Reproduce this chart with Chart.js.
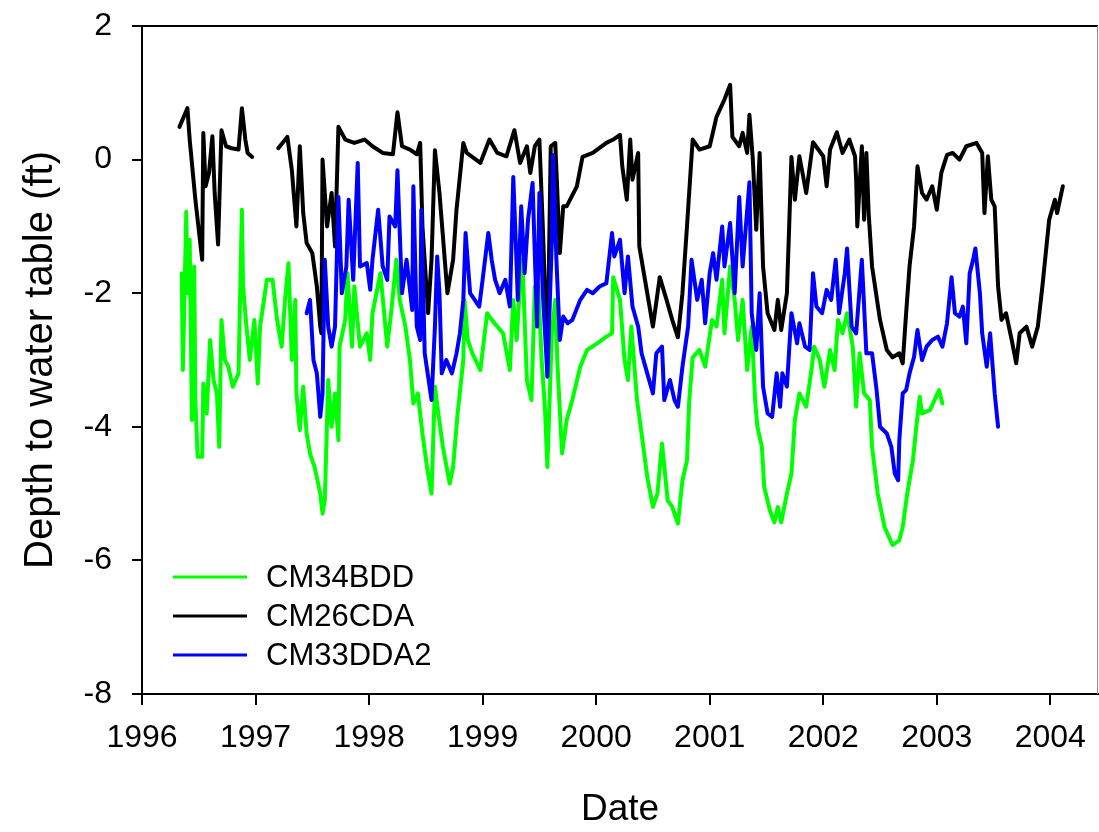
<!DOCTYPE html>
<html><head><meta charset="utf-8">
<script src="https://cdn.jsdelivr.net/npm/chart.js@4.4.1/dist/chart.umd.min.js"></script>
<style>html,body{margin:0;padding:0;background:#fff;overflow:hidden}canvas{display:block}</style>
</head><body>
<canvas id="c" width="1099" height="832"></canvas>
<script>
const seriesNames = ['CM34BDD', 'CM26CDA', 'CM33DDA2'];
const seriesColors = ['#00ff00', '#000000', '#0000ff'];
const yearTicks = [1996, 1997, 1998, 1999, 2000, 2001, 2002, 2003, 2004];
const depthTicks = [2, 0, -2, -4, -6, -8];

const cm34bddYears = [1996.35,1996.36,1996.39,1996.40,1996.42,1996.44,1996.46,1996.47,1996.49,1996.53,1996.54,1996.57,1996.60,1996.63,1996.66,1996.68,1996.70,1996.73,1996.76,1996.80,1996.85,1996.88,1996.89,1996.92,1996.95,1996.99,1997.02,1997.04,1997.10,1997.15,1997.19,1997.23,1997.26,1997.29,1997.32,1997.35,1997.36,1997.39,1997.42,1997.45,1997.48,1997.52,1997.57,1997.59,1997.61,1997.64,1997.67,1997.70,1997.73,1997.74,1997.79,1997.81,1997.85,1997.87,1997.92,1997.98,1998.01,1998.03,1998.10,1998.16,1998.20,1998.24,1998.27,1998.32,1998.36,1998.39,1998.43,1998.47,1998.51,1998.55,1998.58,1998.61,1998.65,1998.71,1998.74,1998.78,1998.83,1998.84,1998.87,1998.91,1998.98,1999.04,1999.08,1999.13,1999.18,1999.24,1999.27,1999.30,1999.33,1999.35,1999.39,1999.43,1999.46,1999.49,1999.52,1999.55,1999.57,1999.61,1999.64,1999.66,1999.70,1999.74,1999.79,1999.86,1999.92,2000.01,2000.09,2000.14,2000.15,2000.21,2000.25,2000.28,2000.31,2000.36,2000.40,2000.45,2000.50,2000.54,2000.58,2000.63,2000.67,2000.72,2000.76,2000.80,2000.82,2000.85,2000.91,2000.96,2001.02,2001.06,2001.11,2001.13,2001.18,2001.22,2001.25,2001.29,2001.33,2001.37,2001.40,2001.42,2001.46,2001.48,2001.53,2001.57,2001.60,2001.63,2001.68,2001.72,2001.75,2001.79,2001.85,2001.90,2001.92,2001.97,2002.01,2002.06,2002.10,2002.13,2002.17,2002.21,2002.26,2002.29,2002.32,2002.36,2002.41,2002.43,2002.48,2002.54,2002.61,2002.67,2002.70,2002.74,2002.79,2002.82,2002.85,2002.87,2002.94,2002.98,2003.02,2003.05];
const cm34bddDepth = [-1.7,-3.15,-0.78,-2.0,-1.2,-3.9,-1.6,-3.6,-4.45,-4.45,-3.35,-3.8,-2.7,-3.3,-3.5,-4.3,-2.4,-3.0,-3.1,-3.4,-3.2,-0.75,-1.9,-2.5,-3.0,-2.4,-3.35,-2.5,-1.8,-1.8,-2.4,-2.8,-2.1,-1.55,-3.0,-2.1,-3.5,-4.05,-3.4,-4.1,-4.4,-4.6,-5.0,-5.3,-5.1,-3.3,-4.0,-3.5,-4.2,-2.8,-2.4,-1.7,-2.8,-1.9,-2.8,-2.6,-3.0,-2.3,-1.7,-2.8,-2.2,-1.5,-2.1,-2.5,-3.0,-3.65,-3.5,-4.1,-4.6,-5.0,-3.4,-3.8,-4.3,-4.85,-4.6,-3.8,-3.0,-2.1,-2.7,-2.9,-3.15,-2.3,-2.4,-2.5,-2.6,-3.15,-2.1,-2.7,-1.85,-1.5,-3.3,-3.6,-1.9,-1.9,-3.0,-3.75,-4.6,-2.6,-2.1,-3.1,-4.4,-3.9,-3.6,-3.1,-2.85,-2.75,-2.65,-2.6,-1.76,-2.1,-3.0,-3.3,-2.5,-3.6,-4.1,-4.75,-5.2,-5.0,-4.25,-5.1,-5.2,-5.45,-4.8,-4.5,-3.6,-2.96,-2.85,-3.1,-2.4,-2.5,-1.8,-2.6,-1.6,-2.1,-2.7,-2.1,-3.15,-2.5,-3.6,-4.0,-4.3,-4.9,-5.25,-5.43,-5.2,-5.43,-5.0,-4.7,-3.9,-3.5,-3.7,-3.1,-2.8,-3.0,-3.4,-2.85,-3.15,-2.4,-2.6,-2.3,-2.8,-3.7,-2.9,-3.5,-3.6,-4.3,-5.0,-5.5,-5.77,-5.7,-5.5,-5.0,-4.5,-4.0,-3.55,-3.8,-3.75,-3.6,-3.45,-3.65];

const cm26cdaYears = [1996.33,1996.40,1996.42,1996.47,1996.53,1996.54,1996.56,1996.59,1996.62,1996.64,1996.67,1996.70,1996.74,1996.79,1996.85,1996.88,1996.91,1996.93,1996.97,1997.08,1997.20,1997.28,1997.32,1997.36,1997.39,1997.42,1997.45,1997.50,1997.54,1997.57,1997.58,1997.59,1997.63,1997.67,1997.70,1997.73,1997.79,1997.87,1997.96,1998.03,1998.12,1998.21,1998.25,1998.29,1998.36,1998.42,1998.45,1998.47,1998.52,1998.55,1998.58,1998.62,1998.69,1998.74,1998.77,1998.83,1998.86,1998.98,1999.06,1999.13,1999.21,1999.28,1999.33,1999.39,1999.42,1999.46,1999.50,1999.53,1999.56,1999.57,1999.60,1999.64,1999.68,1999.71,1999.74,1999.83,1999.88,1999.97,2000.09,2000.15,2000.21,2000.23,2000.27,2000.30,2000.32,2000.37,2000.38,2000.45,2000.50,2000.56,2000.62,2000.67,2000.72,2000.76,2000.80,2000.85,2000.91,2001.00,2001.06,2001.13,2001.18,2001.20,2001.26,2001.29,2001.33,2001.35,2001.38,2001.41,2001.44,2001.47,2001.51,2001.57,2001.60,2001.63,2001.68,2001.70,2001.72,2001.75,2001.79,2001.85,2001.91,2002.00,2002.03,2002.06,2002.12,2002.17,2002.23,2002.28,2002.29,2002.30,2002.34,2002.36,2002.38,2002.40,2002.43,2002.50,2002.56,2002.61,2002.67,2002.70,2002.73,2002.76,2002.80,2002.83,2002.87,2002.91,2002.96,2003.00,2003.04,2003.09,2003.14,2003.20,2003.26,2003.35,2003.40,2003.42,2003.45,2003.48,2003.51,2003.54,2003.57,2003.61,2003.66,2003.70,2003.73,2003.79,2003.84,2003.89,2003.93,2003.99,2004.04,2004.06,2004.11];
const cm26cdaDepth = [0.49,0.77,0.3,-0.6,-1.5,0.4,-0.4,-0.2,0.35,-0.5,-1.27,0.44,0.2,0.17,0.15,0.77,0.3,0.1,0.04,null,0.17,0.34,-0.16,-1.0,0.2,-0.8,-1.25,-1.4,-1.9,-2.5,-2.6,0.0,-1.0,-0.5,-1.3,0.49,0.3,0.25,0.3,0.2,0.1,0.08,0.71,0.2,0.15,0.08,0.25,-1.0,-2.3,-1.5,0.14,-0.5,-2.0,-1.5,-0.75,0.25,0.1,-0.05,0.3,0.1,0.05,0.44,-0.05,0.2,-0.2,0.2,0.3,-1.0,-2.5,-3.1,0.2,0.25,-1.4,-0.7,-0.7,-0.4,0.04,0.1,0.25,0.3,0.37,-0.1,-0.6,0.3,-0.3,0.1,-1.3,-2.0,-2.5,-1.76,-2.1,-2.4,-2.66,-2.0,-1.0,0.3,0.15,0.2,0.64,0.9,1.12,0.34,0.2,0.4,0.1,0.67,0.0,-1.05,0.1,-1.6,-2.3,-2.55,-2.1,-2.55,-2.0,-1.0,0.04,-0.6,0.05,-0.5,0.26,0.05,-0.4,0.15,0.41,0.1,0.3,0.05,-0.3,-1.0,0.2,-0.9,0.1,-0.8,-1.6,-2.4,-2.85,-2.96,-2.9,-3.05,-2.3,-1.6,-1.0,-0.1,-0.5,-0.6,-0.4,-0.75,-0.2,0.07,0.1,0.0,0.2,0.25,0.1,-0.8,0.05,-0.6,-0.7,-1.9,-2.4,-2.3,-2.7,-3.05,-2.6,-2.5,-2.8,-2.5,-1.9,-0.9,-0.6,-0.8,-0.4];

const cm33dda2Years = [1997.45,1997.48,1997.51,1997.54,1997.57,1997.59,1997.61,1997.64,1997.67,1997.70,1997.73,1997.76,1997.80,1997.82,1997.86,1997.90,1997.92,1997.98,1998.01,1998.03,1998.08,1998.12,1998.16,1998.18,1998.23,1998.25,1998.29,1998.33,1998.38,1998.39,1998.42,1998.45,1998.46,1998.49,1998.55,1998.58,1998.60,1998.62,1998.64,1998.68,1998.73,1998.77,1998.80,1998.83,1998.85,1998.89,1998.93,1998.97,1999.00,1999.05,1999.08,1999.11,1999.15,1999.20,1999.24,1999.27,1999.30,1999.31,1999.34,1999.37,1999.40,1999.44,1999.48,1999.50,1999.53,1999.56,1999.57,1999.61,1999.62,1999.65,1999.68,1999.71,1999.75,1999.79,1999.86,1999.92,1999.97,2000.03,2000.09,2000.14,2000.16,2000.21,2000.25,2000.28,2000.32,2000.37,2000.40,2000.45,2000.50,2000.53,2000.58,2000.60,2000.65,2000.69,2000.72,2000.76,2000.81,2000.84,2000.89,2000.93,2000.96,2001.00,2001.03,2001.06,2001.11,2001.13,2001.18,2001.22,2001.26,2001.29,2001.35,2001.37,2001.41,2001.44,2001.47,2001.51,2001.55,2001.59,2001.62,2001.64,2001.68,2001.72,2001.77,2001.79,2001.84,2001.88,2001.91,2001.94,2001.99,2002.03,2002.07,2002.11,2002.14,2002.19,2002.21,2002.25,2002.29,2002.34,2002.38,2002.43,2002.47,2002.50,2002.56,2002.60,2002.63,2002.66,2002.67,2002.70,2002.73,2002.76,2002.80,2002.83,2002.87,2002.91,2002.96,2003.01,2003.05,2003.09,2003.13,2003.16,2003.20,2003.23,2003.26,2003.29,2003.32,2003.34,2003.38,2003.40,2003.44,2003.47,2003.51,2003.54];
const cm33dda2Depth = [-2.3,-2.1,-3.0,-3.2,-3.85,-3.5,-1.5,-2.5,-2.8,-2.5,-0.56,-2.0,-1.6,-0.6,-1.8,-0.05,-1.6,-1.55,-1.95,-1.5,-0.75,-1.6,-1.8,-0.85,-1.0,-0.16,-2.0,-1.5,-2.25,-0.4,-2.5,-2.7,-0.75,-2.9,-3.6,-2.5,-1.45,-2.0,-3.2,-3.0,-3.2,-2.9,-2.6,-2.1,-1.1,-2.0,-2.1,-2.2,-1.8,-1.1,-1.5,-1.8,-2.0,-1.8,-2.2,-0.26,-1.6,-2.1,-0.7,-1.7,-0.9,-0.35,-2.5,-0.5,-2.0,-2.9,-3.25,-1.2,0.07,-1.5,-2.7,-2.35,-2.45,-2.4,-2.1,-1.95,-2.0,-1.9,-1.85,-1.1,-1.45,-1.2,-2.0,-1.45,-2.2,-2.5,-2.9,-3.2,-3.5,-2.9,-2.8,-3.6,-3.3,-3.6,-3.7,-3.1,-2.5,-1.5,-2.1,-1.8,-2.45,-1.7,-1.4,-1.8,-1.0,-1.6,-0.95,-2.0,-0.56,-1.6,-0.34,-2.3,-2.85,-2.0,-3.4,-3.8,-3.85,-3.2,-3.7,-3.2,-3.4,-2.3,-2.75,-2.45,-2.8,-2.85,-1.7,-2.2,-2.3,-1.95,-2.1,-1.5,-2.3,-1.7,-1.33,-2.5,-2.6,-1.5,-2.9,-2.9,-3.45,-4.0,-4.1,-4.3,-4.7,-4.8,-4.2,-3.5,-3.45,-3.2,-2.95,-2.55,-3.0,-2.8,-2.7,-2.65,-2.8,-2.45,-1.76,-2.3,-2.35,-2.2,-2.75,-1.7,-1.5,-1.33,-2.0,-2.6,-3.1,-2.6,-3.5,-4.0];

function toPoints(xs, ys) { return xs.map((x, i) => ({ x: x, y: ys[i] })); }

const FONT = '"Liberation Sans", Arial, Helvetica, sans-serif';
Chart.defaults.font.family = FONT;
Chart.defaults.color = '#000';

const framePlugin = {
  id: 'frame',
  afterDraw(chart) {
    const { ctx, chartArea: a } = chart;
    ctx.save();
    ctx.strokeStyle = '#000'; ctx.lineWidth = 2;
    ctx.beginPath(); ctx.moveTo(a.left, a.top); ctx.lineTo(a.right, a.top); ctx.stroke();
    ctx.strokeStyle = '#8c8c8c'; ctx.lineWidth = 1;
    ctx.beginPath(); ctx.moveTo(a.right - 0.5, a.top); ctx.lineTo(a.right - 0.5, a.bottom); ctx.stroke();
    ctx.font = '31px ' + FONT;
    ctx.textBaseline = 'middle';
    ctx.textAlign = 'left';
    seriesNames.forEach((name, i) => {
      const y = a.top + 551 + i * 39;
      ctx.strokeStyle = seriesColors[i]; ctx.lineWidth = 3;
      ctx.beginPath(); ctx.moveTo(a.left + 31, y); ctx.lineTo(a.left + 105, y); ctx.stroke();
      ctx.fillStyle = '#000';
      ctx.fillText(name, a.left + 124, y + 1);
    });
    ctx.restore();
  }
};

const lineStyle = { borderWidth: 4, pointRadius: 0, tension: 0, fill: false, spanGaps: false, borderJoinStyle: 'round', borderCapStyle: 'round' };

new Chart(document.getElementById('c'), {
  type: 'line',
  data: {
    datasets: [
      Object.assign({ label: seriesNames[0], data: toPoints(cm34bddYears, cm34bddDepth), borderColor: seriesColors[0], order: 2 }, lineStyle),
      Object.assign({ label: seriesNames[1], data: toPoints(cm26cdaYears, cm26cdaDepth), borderColor: seriesColors[1], order: 1 }, lineStyle),
      Object.assign({ label: seriesNames[2], data: toPoints(cm33dda2Years, cm33dda2Depth), borderColor: seriesColors[2], order: 0 }, lineStyle)
    ]
  },
  options: {
    responsive: false,
    animation: false,
    devicePixelRatio: 1,
    layout: { padding: { top: 26, right: 1, left: 0, bottom: 0 } },
    plugins: { legend: { display: false }, tooltip: { enabled: false } },
    scales: {
      x: {
        type: 'linear',
        min: 1996, max: 2004.42,
        afterBuildTicks: s => { s.ticks = yearTicks.map(v => ({ value: v })); },
        afterFit: s => { s.height = 138; s.paddingLeft = 0; s.paddingRight = 0; },
        ticks: { callback: v => String(v), font: { size: 32 }, padding: 14, maxRotation: 0, autoSkip: false, includeBounds: false },
        grid: { drawOnChartArea: false, drawTicks: true, tickLength: 11, color: '#000', lineWidth: 2 },
        border: { display: true, color: '#000', width: 2 },
        title: { display: true, text: 'Date', font: { size: 37 }, padding: { top: 0, bottom: 0 } }
      },
      y: {
        type: 'linear',
        min: -8, max: 2,
        afterBuildTicks: s => { s.ticks = depthTicks.map(v => ({ value: v })); },
        afterFit: s => { s.width = 142; s.paddingTop = 0; s.paddingBottom = 0; },
        ticks: { callback: v => String(v), font: { size: 32 }, padding: 20, includeBounds: false },
        grid: { drawOnChartArea: false, drawTicks: true, tickLength: 10, color: '#000', lineWidth: 2 },
        border: { display: true, color: '#000', width: 2 },
        title: { display: true, text: 'Depth to water table (ft)', font: { size: 40 }, padding: { top: 17, bottom: 0 } }
      }
    }
  },
  plugins: [framePlugin]
});
</script>
</body></html>
